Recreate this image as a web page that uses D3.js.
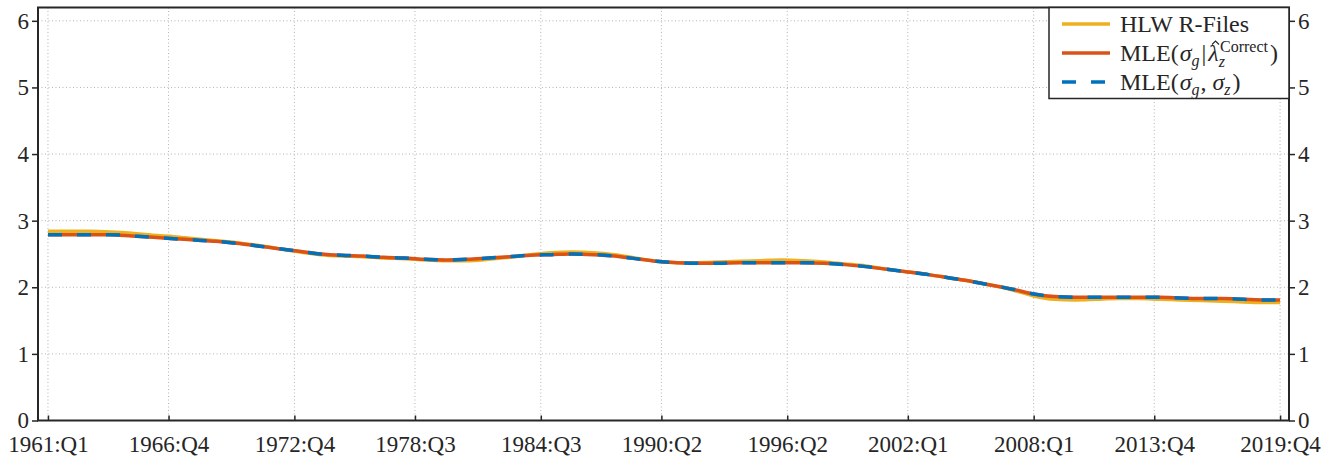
<!DOCTYPE html>
<html>
<head>
<meta charset="utf-8">
<script src="https://cdn.jsdelivr.net/npm/d3@7"></script>
<style>
  body { margin: 0; background: #fff; }
  text { font-family: "Liberation Serif", "DejaVu Serif", serif; fill: #262626; }
</style>
</head>
<body>
<script>

let width = 1338,
    height = 461;

// quarter index from 1961:Q1 (0) ; one knot per year Q1 plus the last quarter
let quarters = [0, 4, 8, 12, 16, 20, 24, 28, 32, 36, 40, 44, 48, 52, 56, 60, 64, 68, 72, 76,
  80, 84, 88, 92, 96, 100, 104, 108, 112, 116, 120, 124, 128, 132, 136, 140, 144, 148, 152, 156,
  160, 164, 168, 172, 176, 180, 184, 188, 192, 196, 200, 204, 208, 212, 216, 220, 224, 228, 232, 235];

let hlw = [2.84, 2.84, 2.84, 2.83, 2.81, 2.78, 2.76, 2.73, 2.70, 2.67, 2.63, 2.58, 2.53, 2.49, 2.47, 2.46, 2.44, 2.43, 2.41, 2.40,
  2.40, 2.42, 2.45, 2.49, 2.52, 2.53, 2.52, 2.49, 2.44, 2.39, 2.37, 2.37, 2.38, 2.39, 2.40, 2.41, 2.40, 2.38, 2.35, 2.32,
  2.27, 2.23, 2.19, 2.14, 2.09, 2.03, 1.96, 1.87, 1.82, 1.81, 1.82, 1.83, 1.83, 1.82, 1.81, 1.80, 1.79, 1.78, 1.77, 1.77];

let mleSigmaG = [2.79, 2.79, 2.79, 2.79, 2.77, 2.75, 2.73, 2.71, 2.69, 2.66, 2.62, 2.58, 2.54, 2.50, 2.48, 2.47, 2.45, 2.44, 2.42, 2.41,
  2.42, 2.44, 2.46, 2.48, 2.49, 2.50, 2.49, 2.47, 2.43, 2.39, 2.37, 2.36, 2.36, 2.37, 2.37, 2.37, 2.37, 2.36, 2.34, 2.31,
  2.27, 2.23, 2.19, 2.14, 2.09, 2.03, 1.97, 1.90, 1.86, 1.85, 1.85, 1.85, 1.85, 1.85, 1.84, 1.83, 1.83, 1.82, 1.81, 1.81];

let mleSigmaGZ = [2.79, 2.79, 2.79, 2.79, 2.77, 2.75, 2.73, 2.71, 2.69, 2.66, 2.62, 2.58, 2.54, 2.50, 2.48, 2.47, 2.45, 2.44, 2.42, 2.41,
  2.42, 2.44, 2.46, 2.48, 2.49, 2.50, 2.49, 2.47, 2.43, 2.39, 2.37, 2.36, 2.36, 2.37, 2.37, 2.37, 2.37, 2.36, 2.34, 2.31,
  2.27, 2.23, 2.19, 2.14, 2.09, 2.03, 1.97, 1.90, 1.86, 1.85, 1.85, 1.85, 1.85, 1.85, 1.84, 1.83, 1.83, 1.82, 1.81, 1.81];

let xTickQuarters = [0, 23, 47, 70, 94, 117, 141, 164, 188, 211, 235];
let xTickLabels = ["1961:Q1", "1966:Q4", "1972:Q4", "1978:Q3", "1984:Q3", "1990:Q2",
  "1996:Q2", "2002:Q1", "2008:Q1", "2013:Q4", "2019:Q4"];
let yTicks = [0, 1, 2, 3, 4, 5, 6];

let pLeft = 38, pRight = 1289, pTop = 7.5, pBottom = 420.5;

let x = d3.scaleLinear().domain([-1.9, 236.7]).range([pLeft, pRight]);
let y = d3.scaleLinear().domain([0, 6.2]).range([pBottom, pTop]);

let svg = d3.select("body").append("svg")
    .attr("width", width)
    .attr("height", height);

// grid (dotted)
let grid = svg.append("g")
    .attr("stroke", "#b4b4b4")
    .attr("stroke-width", 1)
    .attr("stroke-dasharray", "1,2.5");

grid.selectAll(".gx")
  .data(xTickQuarters)
  .enter().append("line")
    .attr("x1", d => x(d)).attr("x2", d => x(d))
    .attr("y1", pTop).attr("y2", pBottom);

grid.selectAll(".gy")
  .data(yTicks.filter(d => d > 0))
  .enter().append("line")
    .attr("x1", pLeft).attr("x2", pRight)
    .attr("y1", d => y(d)).attr("y2", d => y(d));

// series
let line = function(vals) {
  return d3.line()
    .x((d, i) => x(quarters[i]))
    .y(d => y(d))
    .curve(d3.curveMonotoneX)(vals);
};

svg.append("path")
    .attr("d", line(hlw))
    .attr("fill", "none")
    .attr("stroke", "#EDB120")
    .attr("stroke-width", 3.5);

svg.append("path")
    .attr("d", line(mleSigmaG))
    .attr("fill", "none")
    .attr("stroke", "#D95319")
    .attr("stroke-width", 3.5);

svg.append("path")
    .attr("d", line(mleSigmaGZ))
    .attr("fill", "none")
    .attr("stroke", "#0072BD")
    .attr("stroke-width", 3.5)
    .attr("stroke-dasharray", "14,15");

// axes
let yLeft = d3.axisLeft(y).tickValues(yTicks).tickFormat(d3.format("d")).tickSize(6).tickPadding(3);
let yRight = d3.axisRight(y).tickValues(yTicks).tickFormat(d3.format("d")).tickSize(6).tickPadding(3);
let xBottom = d3.axisBottom(x).tickValues(xTickQuarters)
    .tickFormat((d, i) => xTickLabels[i]).tickSize(-5).tickPadding(15);

let styleAxis = function(g) {
  g.select(".domain").remove();
  g.selectAll("line").attr("stroke", "#262626").attr("stroke-width", 1.5);
  g.selectAll("text").style("font-size", "23px").attr("fill", "#262626");
};

svg.append("g").attr("transform", "translate(" + pLeft + ",0)").call(yLeft).call(styleAxis);
svg.append("g").attr("transform", "translate(" + pRight + ",0)").call(yRight).call(styleAxis);
svg.append("g").attr("transform", "translate(0," + pBottom + ")").call(xBottom).call(styleAxis);

// box
svg.append("rect")
    .attr("x", pLeft).attr("y", pTop)
    .attr("width", pRight - pLeft).attr("height", pBottom - pTop)
    .attr("fill", "none")
    .attr("stroke", "#262626")
    .attr("stroke-width", 2);

// legend
let lg = svg.append("g");
lg.append("rect")
    .attr("x", 1049).attr("y", pTop)
    .attr("width", pRight - 1049).attr("height", 91)
    .attr("fill", "#fff")
    .attr("stroke", "#262626")
    .attr("stroke-width", 1.5);

let legendItems = [
  { color: "#EDB120", dash: null, y: 24 },
  { color: "#D95319", dash: null, y: 53 },
  { color: "#0072BD", dash: "14,15", y: 82 }
];

lg.selectAll(".ll")
  .data(legendItems)
  .enter().append("line")
    .attr("x1", 1062).attr("x2", 1110)
    .attr("y1", d => d.y).attr("y2", d => d.y)
    .attr("stroke", d => d.color)
    .attr("stroke-width", 3.5)
    .attr("stroke-dasharray", d => d.dash);

// lays out a small piece of math, one text element per piece, measured as it goes
// piece: t = text, it = italic, s = font size, dy = baseline shift,
//        pad = extra space before, back = step back before drawing
let mathText = function(g, x0, yBase, pieces) {
  let cx = x0;
  let nodes = [];
  pieces.forEach(function(p) {
    let px = cx + (p.pad || 0) - (p.back || 0);
    let t = g.append("text")
        .attr("x", px)
        .attr("y", yBase + (p.dy || 0))
        .style("font-size", (p.s || 24) + "px")
        .style("font-style", p.it ? "italic" : "normal")
        .text(p.t);
    let w = t.node().getComputedTextLength();
    nodes.push({ x: px, w: w, sel: t });
    cx = Math.max(cx, px + w);
  });
  return nodes;
};

mathText(lg, 1120, 32, [{ t: "HLW R-Files" }]);

let row2 = mathText(lg, 1120, 61, [
  { t: "MLE(" },
  { t: "σ", it: true, pad: 1 },
  { t: "g", it: true, s: 16, dy: 5 },
  { t: "|", pad: 2 },
  { t: "λ", it: true, pad: 2 },
  { t: "z", it: true, s: 16, dy: 6 },
  { t: "Correct", s: 16, dy: -9, back: 5 },
  { t: ")", pad: 2 }
]);
// hat over lambda, drawn as a small chevron
let lam = row2[4];
let hx = lam.x + lam.w / 2 + 2;
lg.append("path")
    .attr("d", "M" + (hx - 3.5) + ",44.5 L" + hx + ",41 L" + (hx + 3.5) + ",44.5")
    .attr("fill", "none")
    .attr("stroke", "#262626")
    .attr("stroke-width", 1.1);

mathText(lg, 1120, 90, [
  { t: "MLE(" },
  { t: "σ", it: true, pad: 1 },
  { t: "g", it: true, s: 16, dy: 5 },
  { t: ",", pad: 1 },
  { t: "σ", it: true, pad: 6 },
  { t: "z", it: true, s: 16, dy: 5 },
  { t: ")", pad: 2 }
]);

</script>
</body>
</html>
